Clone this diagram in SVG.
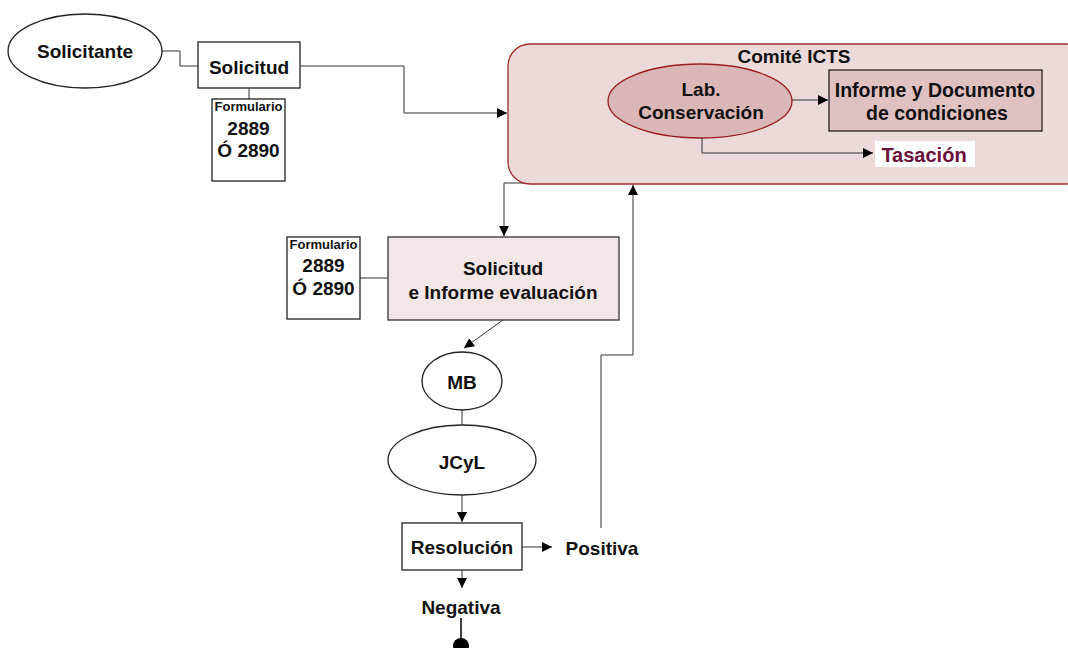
<svg xmlns="http://www.w3.org/2000/svg" width="1068" height="648" viewBox="0 0 1068 648">
<defs>
<marker id="ah" viewBox="0 0 10 10" refX="10" refY="5" markerWidth="10" markerHeight="10" markerUnits="userSpaceOnUse" orient="auto">
<path d="M0,0 L10,5 L0,10 z" fill="#000"/>
</marker>
<style>
text{font-family:"Liberation Sans",Arial,sans-serif;font-weight:bold;fill:#111;text-anchor:middle}
.t19{font-size:19px}
.t13{font-size:13px}
.box{fill:#fff;stroke:#222;stroke-width:1.3}
.ln{fill:none;stroke:#333;stroke-width:1}
</style>
</defs>
<rect width="1068" height="648" fill="#fff"/>
<g id="connectors">
<path class="ln" d="M162,51 H180 V66 H198"/>
<path class="ln" d="M249,88 V99"/>
<path class="ln" d="M300,66 H404 V113 H507" marker-end="url(#ah)"/>
<path class="ln" d="M530,183 H504 V236" marker-end="url(#ah)"/>
<path class="ln" d="M601,528 V355 H633 V185" marker-end="url(#ah)"/>
<path class="ln" d="M360,278 H388"/>
<path class="ln" d="M503,320 L464,348" marker-end="url(#ah)"/>
<path class="ln" d="M462,410 V426"/>
<path class="ln" d="M462,495 V522" marker-end="url(#ah)"/>
<path class="ln" d="M522,547 H552" marker-end="url(#ah)"/>
<path class="ln" d="M462,570 V588" marker-end="url(#ah)"/>
<path class="ln" d="M461,618 V638" style="stroke:#000;stroke-width:1.5"/>
</g>
<g id="solicitante">
<ellipse cx="85" cy="51" rx="77" ry="37" fill="#fff" stroke="#222" stroke-width="1.3"/>
<text class="t19" x="85" y="58">Solicitante</text>
</g>
<g id="solicitud">
<rect class="box" x="198" y="42" width="102" height="46"/>
<text class="t19" x="249" y="74">Solicitud</text>
</g>
<g id="formulario1">
<rect class="box" x="212" y="99" width="73" height="82"/>
<text class="t13" x="248.5" y="111">Formulario</text>
<text class="t19" x="248.5" y="135">2889</text>
<text class="t19" x="248.5" y="157">Ó 2890</text>
</g>
<g id="comite">
<rect x="508" y="44" width="580" height="140" rx="22" fill="#ecd9d9" stroke="#a32a2a" stroke-width="1.3"/>
<text class="t19" x="794" y="63">Comité ICTS</text>
</g>
<g id="lab">
<ellipse cx="700" cy="101" rx="92" ry="37" fill="#dbb6b6" stroke="#9b1c1c" stroke-width="1.3"/>
<text class="t19" x="701" y="96">Lab.</text>
<text class="t19" x="701" y="119">Conservación</text>
</g>
<g id="informe">
<rect x="829" y="70" width="213" height="61" fill="#e0c1c1" stroke="#222" stroke-width="1.3"/>
<text class="t19" x="935" y="97" style="font-size:19.5px">Informe y Documento</text>
<text class="t19" x="937" y="120" style="font-size:19.5px">de condiciones</text>
</g>
<g id="connectors-comite">
<path class="ln" d="M792,100 H828" marker-end="url(#ah)"/>
<path class="ln" d="M702,138 V153 H873" marker-end="url(#ah)"/>
</g>
<g id="tasacion">
<rect x="875" y="141" width="100" height="26" fill="#fff"/>
<text class="t19" x="924" y="162" style="fill:#6b0f3a;font-size:20px">Tasación</text>
</g>
<g id="formulario2">
<rect class="box" x="287" y="237" width="73" height="82"/>
<text class="t13" x="323.5" y="249">Formulario</text>
<text class="t19" x="323.5" y="272">2889</text>
<text class="t19" x="323.5" y="295">Ó 2890</text>
</g>
<g id="solicitud-informe">
<rect x="388" y="237" width="231" height="83" fill="#f3e6e6" stroke="#333" stroke-width="1.3"/>
<text class="t19" x="503" y="275">Solicitud</text>
<text class="t19" x="503" y="299">e Informe evaluación</text>
</g>
<g id="mb">
<ellipse cx="462" cy="381" rx="40" ry="29" fill="#fff" stroke="#222" stroke-width="1.3"/>
<text class="t19" x="462" y="389">MB</text>
</g>
<g id="jcyl">
<ellipse cx="462" cy="460" rx="74" ry="35" fill="#fff" stroke="#222" stroke-width="1.3"/>
<text class="t19" x="462" y="469">JCyL</text>
</g>
<g id="resolucion">
<rect class="box" x="402" y="523" width="120" height="47"/>
<text class="t19" x="462" y="554">Resolución</text>
</g>
<g id="positiva">
<text class="t19" x="602" y="555">Positiva</text>
</g>
<g id="negativa">
<text class="t19" x="461" y="614">Negativa</text>
</g>
<g id="fin">
<circle cx="461" cy="646" r="8" fill="#000"/>
</g>
</svg>
